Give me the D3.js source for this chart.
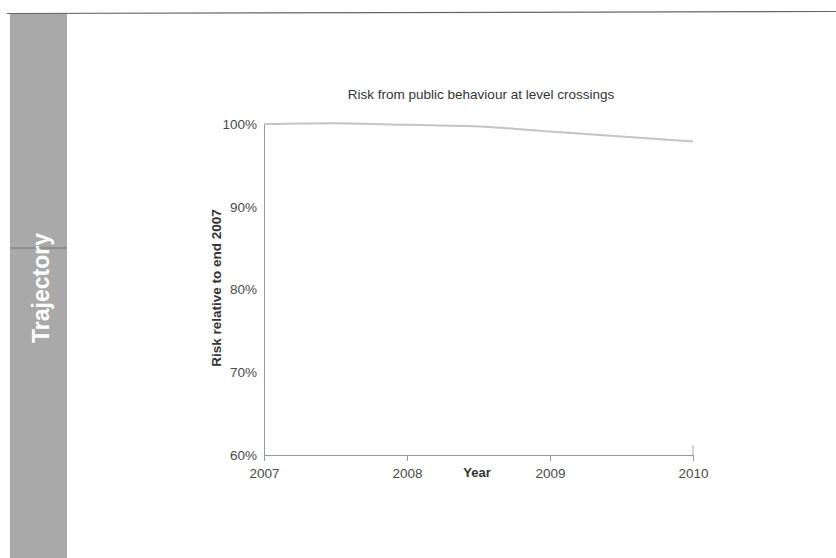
<!DOCTYPE html>
<html>
<head>
<meta charset="utf-8">
<script src="https://cdn.jsdelivr.net/npm/d3@7"></script>
<style>
  html, body { margin: 0; padding: 0; background: #fff; }
  svg { display: block; font-family: "Liberation Sans", Arial, sans-serif; }
</style>
</head>
<body>
<svg id="chart" width="836" height="558"></svg>
<script>
// Risk trajectory, relative to end 2007
const years = [2007, 2007.5, 2008, 2008.5, 2009, 2009.5, 2010];
const riskValues = [1.000, 1.001, 0.999, 0.997, 0.991, 0.985, 0.979];
const xTickYears = [2007, 2008, 2009, 2010];
const yTickValues = [0.6, 0.7, 0.8, 0.9, 1.0];

const svg = d3.select("#chart");

// Page furniture: section tab and header rule
svg.append("rect").attr("x", 10).attr("y", 13).attr("width", 57).attr("height", 545)
  .attr("fill", "#a9a9a9");
svg.append("line").attr("x1", 7).attr("x2", 836).attr("y1", 13.5).attr("y2", 11.5)
  .attr("stroke", "#666").attr("stroke-width", 1.2);
svg.append("line").attr("x1", 10).attr("x2", 67).attr("y1", 248).attr("y2", 248)
  .attr("stroke", "#777").attr("stroke-width", 1);
svg.append("text").attr("transform", "translate(49,288) rotate(-90)")
  .attr("text-anchor", "middle").attr("fill", "#fff")
  .attr("font-size", 23).attr("font-weight", "bold").text("Trajectory");

// Chart area
const x = d3.scaleLinear().domain([2007, 2010]).range([264, 693]);
const y = d3.scaleLinear().domain([0.6, 1.0]).range([455, 124]);

svg.append("text").attr("x", 481).attr("y", 99).attr("text-anchor", "middle")
  .attr("font-size", 13.5).attr("fill", "#333")
  .text("Risk from public behaviour at level crossings");

const tickFont = "Liberation Sans, Arial, sans-serif";

// Y axis
const yAxis = svg.append("g").attr("transform", "translate(264,0)")
  .call(d3.axisLeft(y).tickValues(yTickValues).tickFormat(d3.format(".0%")).tickSize(0).tickPadding(7));
yAxis.select(".domain").attr("stroke", "#999");
yAxis.selectAll("text").attr("font-size", 13.5).attr("fill", "#4a4a4a")
  .attr("font-family", tickFont);

// X axis
const xAxis = svg.append("g").attr("transform", "translate(0,455)")
  .call(d3.axisBottom(x).tickValues(xTickYears).tickFormat(d3.format("d")).tickSize(6).tickSizeOuter(0).tickPadding(7));
xAxis.select(".domain").attr("stroke", "#999");
xAxis.selectAll(".tick line").attr("stroke", "#999");
xAxis.selectAll("text").attr("font-size", 13.5).attr("fill", "#4a4a4a")
  .attr("font-family", tickFont);
// end marker at the right of the axis
svg.append("line").attr("x1", x(2010)).attr("x2", x(2010)).attr("y1", 445).attr("y2", 455)
  .attr("stroke", "#aaa");

svg.append("text").attr("x", 477).attr("y", 477).attr("text-anchor", "middle")
  .attr("font-size", 13).attr("font-weight", "bold").attr("fill", "#333").text("Year");
svg.append("text").attr("transform", "translate(221,288) rotate(-90)")
  .attr("text-anchor", "middle").attr("font-size", 13.5).attr("font-weight", "bold")
  .attr("fill", "#333").text("Risk relative to end 2007");

// Trajectory line
const line = d3.line().x((d, i) => x(years[i])).y(d => y(d)).curve(d3.curveMonotoneX);
svg.append("path").datum(riskValues).attr("d", line)
  .attr("fill", "none").attr("stroke", "#c4c4c4").attr("stroke-width", 2);
</script>
</body>
</html>
